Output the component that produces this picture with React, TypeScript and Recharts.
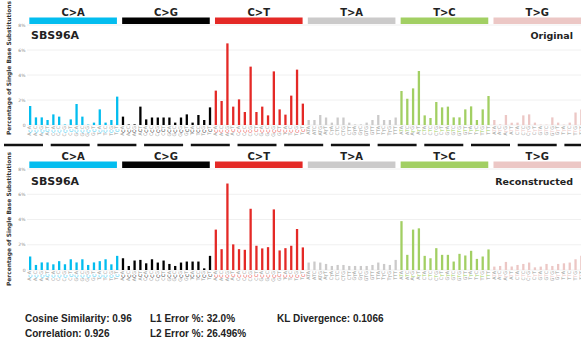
import React from "react";
import { BarChart, Bar, XAxis, YAxis, CartesianGrid, Cell, ReferenceArea } from "recharts";

// substitution classes, SigProfiler colours
const SUBS = [
  { name: "C>A", ref: "C", color: "#03BDEF" },
  { name: "C>G", ref: "C", color: "#010101" },
  { name: "C>T", ref: "C", color: "#E42926" },
  { name: "T>A", ref: "T", color: "#CBCACA" },
  { name: "T>C", ref: "T", color: "#A2CF63" },
  { name: "T>G", ref: "T", color: "#ECC7C5" },
];
const BASES = ["A", "C", "G", "T"];
const Y_TICKS = [0, 2, 4, 6, 8];

// Original (% of SBS), 16 contexts per class
const origCA = [1.52, 0.61, 0.61, 0.4, 0.85, 0.67, 0.05, 0.45, 1.68, 0.67, 0.03, 0.19, 1.25, 0.19, 0.4, 2.27];
const origCG = [0.67, 0.05, 0.05, 1.47, 0.45, 0.6, 0.6, 0.6, 0.6, 0.19, 0.6, 0.85, 0.19, 0.8, 0.4, 1.41];
const origCT = [2.75, 1.92, 6.53, 1.47, 2.05, 1.04, 4.67, 1.04, 1.47, 0.77, 4.29, 1.25, 0.83, 2.35, 4.43, 1.71];
const origTA = [0.4, 0.4, 0.8, 0.6, 0.19, 0.6, 0.6, 0.19, 0.05, 0.05, 0.19, 0.4, 0.8, 0.4, 0.4, 0.6];
const origTC = [2.72, 2.1, 2.93, 4.32, 0.77, 0.56, 1.84, 1.41, 1.47, 0.61, 0.61, 1.25, 1.49, 0.4, 1.25, 2.32];
const origTG = [0.4, 0.05, 0.8, 0.19, 0.19, 0.77, 0.85, 0.19, 0.03, 0.03, 0.61, 0.19, 0.03, 0.19, 1.0, 1.25];

// Reconstructed
const recCA = [1.07, 0.4, 0.6, 0.6, 0.45, 0.7, 0.45, 0.85, 0.6, 0.85, 0.4, 0.6, 0.7, 0.85, 0.45, 1.12];
const recCG = [0.93, 0.32, 0.75, 0.8, 0.53, 0.85, 0.59, 0.75, 0.48, 0.32, 0.59, 0.67, 0.67, 0.67, 0.13, 1.12];
const recCT = [3.2, 1.65, 6.85, 2.03, 1.65, 1.6, 4.85, 1.92, 1.71, 1.81, 4.8, 1.55, 1.73, 1.92, 3.25, 1.79];
const recTA = [0.59, 0.67, 0.59, 0.48, 0.32, 0.4, 0.4, 0.32, 0.32, 0.32, 0.32, 0.4, 0.59, 0.48, 0.4, 0.8];
const recTC = [3.87, 1.2, 3.2, 3.3, 1.12, 0.93, 1.73, 1.2, 1.2, 0.67, 1.28, 1.15, 1.52, 0.88, 1.07, 1.63];
const recTG = [0.27, 0.32, 0.64, 0.27, 0.4, 0.48, 0.59, 0.21, 0.27, 0.48, 0.32, 0.48, 0.53, 0.59, 0.85, 1.12];

const ORIG = [origCA, origCG, origCT, origTA, origTC, origTG];
const REC = [recCA, recCG, recCT, recTA, recTC, recTG];

const rows = SUBS.flatMap((s, si) =>
  BASES.flatMap((l, li) =>
    BASES.map((r, ri) => {
      const k = li * 4 + ri;
      return {
        idx: si * 16 + k,
        left: l,
        mid: s.ref,
        right: r,
        color: s.color,
        original: ORIG[si][k],
        reconstructed: REC[si][k],
      };
    })
  )
);

const FONT = "DejaVu Sans";
const W = 590;

const ContextTick = (props: any) => {
  const { x, y, payload } = props;
  const row = rows[payload.value];
  if (!row) return null;
  return (
    <g transform={`translate(${x},${y + 1})`}>
      <text
        transform="rotate(-90)"
        textAnchor="end"
        dominantBaseline="central"
        fontSize={4.8}
        fontFamily={FONT}
        fill="#999"
      >
        {row.left}
        <tspan fill={row.color === "#CBCACA" ? "#999" : row.color}>{row.mid}</tspan>
        {row.right}
      </text>
    </g>
  );
};

function Panel(p: {
  field: string;
  title: string;
  top: number;
  height: number;
  xh: number;
  titleY: number;
  labelY: number;
}) {
  return (
    <div style={{ position: "absolute", left: 0, top: p.top, width: W, height: p.height }}>
      <BarChart
        width={W}
        height={p.height}
        data={rows}
        margin={{ top: 25, right: 6, bottom: 0, left: 0 }}
      >
        <CartesianGrid vertical={false} stroke="#f0f0f0" />
        <XAxis
          dataKey="idx"
          type="number"
          domain={[-0.5, 95.5]}
          ticks={rows.map((r) => r.idx)}
          interval={0}
          tick={<ContextTick />}
          tickLine={false}
          axisLine={false}
          tickSize={0}
          tickMargin={0}
          height={p.xh}
        />
        <YAxis
          domain={[0, 8]}
          ticks={Y_TICKS}
          width={27}
          tickLine={false}
          axisLine={false}
          tickSize={0}
          tickMargin={1.5}
          tick={{ fontSize: 4.5, fill: "#888", fontFamily: FONT }}
          tickFormatter={(v: number) => (v === 0 ? "0" : `${v}%`)}
        />
        {SUBS.map((s, i) => (
          <ReferenceArea
            key={s.name}
            x1={i * 16 - 0.1}
            x2={i * 16 + 15}
            y1={8.08}
            y2={8.6}
            fill={s.color}
            fillOpacity={1}
            stroke="none"
            ifOverflow="visible"
            label={{
              value: s.name,
              position: "top",
              offset: 1.5,
              fill: "#222",
              fontSize: 10,
              fontWeight: "bold",
              fontFamily: FONT,
            }}
          />
        ))}
        <Bar dataKey={p.field} barSize={2.3} isAnimationActive={false}>
          {rows.map((r) => (
            <Cell key={r.idx} fill={r.color} />
          ))}
        </Bar>
        <text
          transform={`translate(8.5,${p.labelY}) rotate(-90)`}
          textAnchor="middle"
          dominantBaseline="central"
          fontSize={5.9}
          fontWeight="bold"
          fontFamily={FONT}
          fill="#333"
        >
          Percentage of Single Base Substitutions
        </text>
        <text x={31} y={p.titleY} fontSize={11} fontWeight="bold" fontFamily={FONT} fill="#222">
          SBS96A
        </text>
        <text
          x={573}
          y={p.titleY}
          textAnchor="end"
          fontSize={9.5}
          fontWeight="bold"
          fontFamily={FONT}
          fill="#222"
        >
          {p.title}
        </text>
      </BarChart>
    </div>
  );
}

const STATS = [
  { text: "Cosine Similarity: 0.96", col: 0, row: 0 },
  { text: "Correlation: 0.926", col: 0, row: 1 },
  { text: "L1 Error %: 32.0%", col: 1, row: 0 },
  { text: "L2 Error %: 26.496%", col: 1, row: 1 },
  { text: "KL Divergence: 0.1066", col: 2, row: 0 },
];
const STAT_X = [25, 150, 277];

export default function App() {
  return (
    <div
      style={{
        position: "absolute",
        left: 0,
        top: 0,
        width: 581,
        height: 342,
        overflow: "hidden",
        background: "#fff",
      }}
    >
      <Panel field="original" title="Original" top={0} height={142} xh={17} titleY={38.5} labelY={68} />
      <Panel field="reconstructed" title="Reconstructed" top={144} height={150} xh={24} titleY={40.5} labelY={75} />
      <svg width={581} height={342} style={{ position: "absolute", left: 0, top: 0, pointerEvents: "none" }}>
        <line x1={4} x2={581} y1={145} y2={145} stroke="#111" strokeWidth={2.6} strokeDasharray="39 7.7" />
        {STATS.map((s) => (
          <text
            key={s.text}
            x={STAT_X[s.col]}
            y={321.5 + s.row * 15}
            fontSize={10}
            fontWeight="bold"
            fontFamily="Liberation Sans"
            fill="#222"
          >
            {s.text}
          </text>
        ))}
      </svg>
    </div>
  );
}
